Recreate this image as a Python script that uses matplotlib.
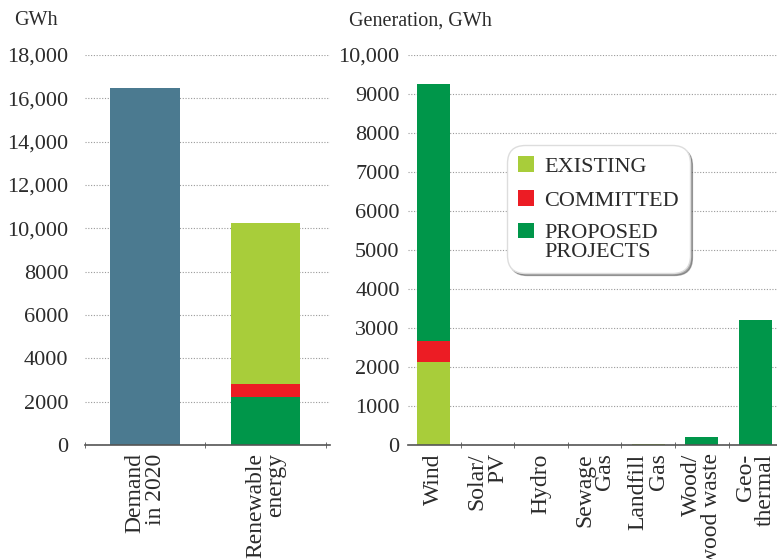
import matplotlib
matplotlib.use("Agg")
import matplotlib.pyplot as plt
from matplotlib.patches import Patch, Rectangle
from matplotlib.legend_handler import HandlerPatch

plt.rcParams['font.family'] = ['Liberation Serif', 'DejaVu Serif']

# ---- data ----
left_categories = ["Demand\nin 2020", "Renewable\nenergy"]
demand_value = [16500, 0]
left_proposed = [0, 2200]
left_committed = [0, 600]
left_existing = [0, 7450]
left_ticks = [0, 2000, 4000, 6000, 8000, 10000, 12000, 14000, 16000, 18000]
left_ticklabels = ["0", "2000", "4000", "6000", "8000", "10,000", "12,000", "14,000", "16,000", "18,000"]

right_categories = ["Wind", "Solar/\nPV", "Hydro", "Sewage\nGas", "Landfill\nGas", "Wood/\nwood waste", "Geo-\nthermal"]
existing = [2120, 0, 0, 0, 30, 0, 0]
committed = [540, 0, 0, 0, 0, 0, 0]
proposed = [6600, 0, 0, 0, 0, 200, 3200]
right_ticks = [0, 1000, 2000, 3000, 4000, 5000, 6000, 7000, 8000, 9000, 10000]
right_ticklabels = ["0", "1000", "2000", "3000", "4000", "5000", "6000", "7000", "8000", "9000", "10,000"]

legend_labels = ["EXISTING", "COMMITTED", "PROPOSED\nPROJECTS"]

# ---- style ----
C_DEMAND = "#4B7A90"
C_EXIST = "#A8CD3A"
C_COMMIT = "#EC1C24"
C_PROP = "#00964A"
TXT = "#2b2b2b"
GRID = "#9a9a9a"

fig = plt.figure(figsize=(7.77, 5.59), dpi=100)
axL = fig.add_axes([0.1094, 0.2039, 0.3153, 0.6977])
axR = fig.add_axes([0.5251, 0.2039, 0.4760, 0.6977])


def style(ax, ticks, labels, pad):
    for s in ["left", "right", "top"]:
        ax.spines[s].set_visible(False)
    ax.spines["bottom"].set_color("#555555")
    ax.spines["bottom"].set_linewidth(1.2)
    ax.set_yticks(ticks)
    ax.set_yticklabels(labels, fontsize=16, color=TXT)
    ax.tick_params(axis="y", length=0, pad=pad)
    ax.yaxis.grid(True, linestyle=(0, (1, 1.5)), color=GRID, linewidth=0.8)
    ax.set_axisbelow(True)
    ax.set_ylim(ticks[0], ticks[-1])


# left panel
xl = list(range(len(left_categories)))
wL = 0.58
axL.bar(xl, demand_value, width=wL, color=C_DEMAND)
axL.bar(xl, left_proposed, width=wL, color=C_PROP)
b1 = [a for a in left_proposed]
axL.bar(xl, left_committed, width=wL, bottom=b1, color=C_COMMIT)
b2 = [a + b for a, b in zip(left_proposed, left_committed)]
axL.bar(xl, left_existing, width=wL, bottom=b2, color=C_EXIST)
style(axL, left_ticks, left_ticklabels, 12)
axL.set_xlim(-0.5, 1.535)
axL.set_xticks(xl)
axL.set_xticklabels(left_categories, rotation=90, fontsize=17, color=TXT,
                    va="top", ha="center", multialignment="right", linespacing=0.95)
axL.tick_params(axis="x", which="major", length=0, pad=6)
axL.set_xticks([-0.5, 0.5, 1.5], minor=True)
axL.tick_params(axis="x", which="minor", length=5, color="#555555", direction="inout")
fig.text(0.018, 0.963, "GWh", fontsize=14.5, color=TXT, va="center", ha="left")

# right panel
xr = list(range(len(right_categories)))
wR = 0.62
axR.bar(xr, existing, width=wR, color=C_EXIST)
axR.bar(xr, committed, width=wR, bottom=existing, color=C_COMMIT)
bot = [a + b for a, b in zip(existing, committed)]
axR.bar(xr, proposed, width=wR, bottom=bot, color=C_PROP)
style(axR, right_ticks, right_ticklabels, 6)
axR.set_xlim(-0.48, 6.42)
axR.set_xticks(xr)
axR.set_xticklabels(right_categories, rotation=90, fontsize=17, color=TXT,
                    va="top", ha="center", multialignment="right", linespacing=0.95)
axR.tick_params(axis="x", which="major", length=0, pad=6)
axR.set_xticks([i + 0.5 for i in range(len(right_categories) - 1)], minor=True)
axR.tick_params(axis="x", which="minor", length=5, color="#555555", direction="inout")
fig.text(0.449, 0.963, "Generation, GWh", fontsize=14.5, color=TXT, va="center", ha="left")


def top_square(legend, orig_handle, xdescent, ydescent, width, height, fontsize):
    return Rectangle((-xdescent, -ydescent), width, height)


def top_square_shift(legend, orig_handle, xdescent, ydescent, width, height, fontsize):
    return Rectangle((-xdescent, -ydescent + 0.5 * fontsize * 1.02), width, height)


h1 = Patch(facecolor=C_EXIST)
h2 = Patch(facecolor=C_COMMIT)
h3 = Patch(facecolor=C_PROP)
leg = axR.legend([h1, h2, h3], legend_labels, loc="upper left", bbox_to_anchor=(0.237, 0.797),
                 fontsize=16, frameon=True, fancybox=True, shadow=True,
                 handlelength=0.72, handleheight=0.72, handletextpad=0.45,
                 labelspacing=0.58, borderpad=0.5, edgecolor="#dddddd",
                 handler_map={h1: HandlerPatch(patch_func=top_square),
                              h2: HandlerPatch(patch_func=top_square),
                              h3: HandlerPatch(patch_func=top_square_shift)})
leg.get_frame().set_boxstyle("round", pad=0.0, rounding_size=0.8)
for t in leg.get_texts():
    t.set_color(TXT)
    t.set_linespacing(1.0)

fig.savefig("out.png", dpi=100)
